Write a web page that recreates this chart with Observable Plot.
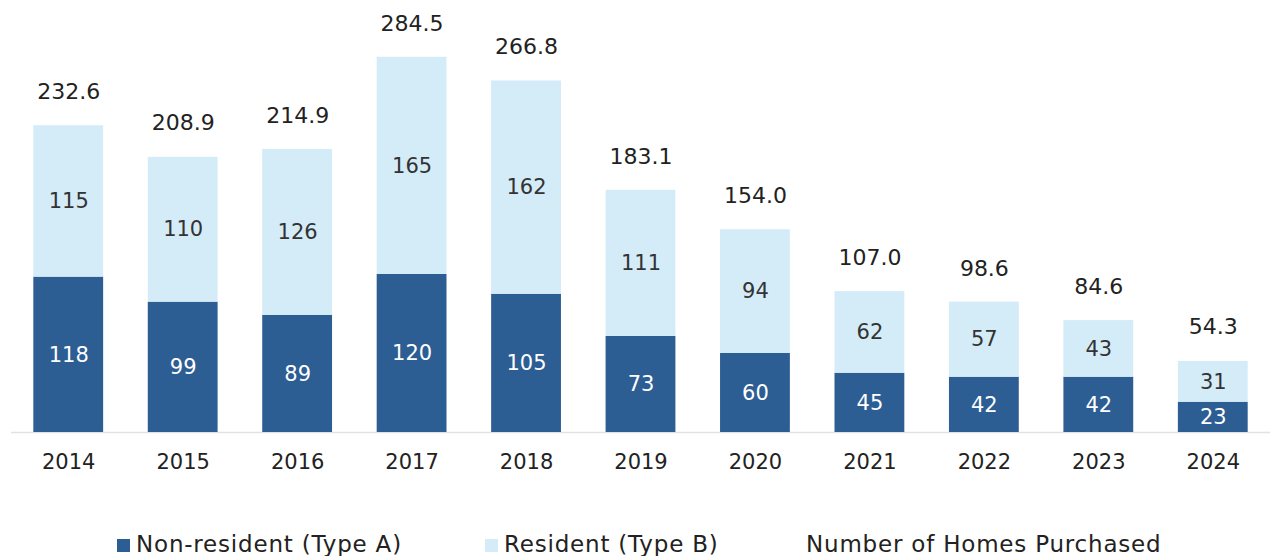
<!DOCTYPE html>
<html><head><meta charset="utf-8">
<script src="https://cdn.jsdelivr.net/npm/d3@7"></script>
<script src="https://cdn.jsdelivr.net/npm/@observablehq/plot@0.6"></script>
<style>
body{margin:0;background:#fff;font-family:"DejaVu Sans",sans-serif;}
#legend{height:30px;line-height:30px;margin-top:29px;font-size:23px;letter-spacing:0.8px;color:#222;position:relative;}
#legend span.item{position:absolute;top:0;white-space:nowrap;}
#legend i{display:inline-block;width:13px;height:13px;margin-right:6px;vertical-align:0px;}
</style></head>
<body>
<div id="chart"></div>
<div id="legend"></div>
<script>
const years = ["2014","2015","2016","2017","2018","2019","2020","2021","2022","2023","2024"];
const nonResident = [118, 99, 89, 120, 105, 73, 60, 45, 42, 42, 23];
const resident = [115, 110, 126, 165, 162, 111, 94, 62, 57, 43, 31];
const totals = [232.6, 208.9, 214.9, 284.5, 266.8, 183.1, 154.0, 107.0, 98.6, 84.6, 54.3];
const seriesNames = ["Non-resident (Type A)", "Resident (Type B)"];
const colors = ["#2c5d93", "#d4ecf8"];

const rows = [];
years.forEach((y, i) => {
  rows.push({year: y, series: seriesNames[0], value: nonResident[i]});
  rows.push({year: y, series: seriesNames[1], value: resident[i]});
});
const totalRows = years.map((y, i) => ({year: y, total: totals[i]}));

const chart = Plot.plot({
  width: 1270,
  height: 500,
  marginLeft: 11,
  marginRight: 0,
  marginTop: 37,
  marginBottom: 68,
  style: {fontFamily: "'DejaVu Sans', sans-serif", background: "white"},
  x: {domain: years, paddingInner: 0.39, paddingOuter: 0.195, round: false, label: null},
  y: {domain: [0, 300], axis: null},
  color: {domain: seriesNames, range: colors},
  marks: [
    Plot.ruleY([0], {stroke: "#e2e2e2", strokeWidth: 1.5}),
    Plot.barY(rows, {x: "year", y: "value", fill: "series"}),
    Plot.text(rows, Plot.stackY({x: "year", y: "value", z: "series",
      text: d => d.series === seriesNames[0] ? String(d.value) : "", fill: "white", fontSize: 21})),
    Plot.text(rows, Plot.stackY({x: "year", y: "value", z: "series",
      text: d => d.series === seriesNames[1] ? String(d.value) : "", fill: "#333", fontSize: 21})),
    Plot.text(totalRows, {x: "year", y: "total", text: d => d.total.toFixed(1), dy: -34, fill: "#222", fontSize: 22}),
    Plot.axisX({tickSize: 0, tickPadding: 22, fontSize: 21, color: "#222", label: null})
  ]
});
document.getElementById("chart").appendChild(chart);

const legend = document.getElementById("legend");
const items = [
  {label: seriesNames[0], color: colors[0], left: 117},
  {label: seriesNames[1], color: colors[1], left: 485},
  {label: "Number of Homes Purchased", color: null, left: 806}
];
items.forEach(it => {
  const s = document.createElement("span");
  s.className = "item";
  s.style.left = it.left + "px";
  if (it.color) {
    const sw = document.createElement("i");
    sw.style.background = it.color;
    s.appendChild(sw);
  }
  s.appendChild(document.createTextNode(it.label));
  legend.appendChild(s);
});
</script>
</body></html>
